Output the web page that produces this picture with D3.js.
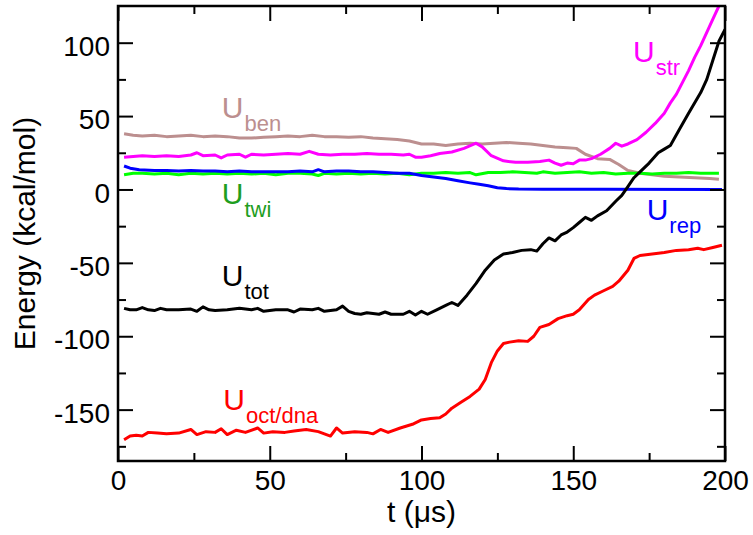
<!DOCTYPE html>
<html>
<head>
<meta charset="utf-8">
<script src="https://cdn.jsdelivr.net/npm/d3@7"></script>
<style>
  body { margin: 0; background: #fff; }
  text { font-family: "Liberation Sans", Arial, Helvetica, sans-serif; }
</style>
</head>
<body>
<div id="vis"></div>
<script>
// frame constants
const FRAME_WIDTH = 753;
const FRAME_HEIGHT = 535;
const MARGINS = {left: 118, right: 28, top: 6, bottom: 74};
const VIS_WIDTH = FRAME_WIDTH - MARGINS.left - MARGINS.right;
const VIS_HEIGHT = FRAME_HEIGHT - MARGINS.top - MARGINS.bottom;

// ticks
const X_MAJOR = [0, 50, 100, 150, 200];
const X_MINOR = [25, 75, 125, 175];
const Y_MAJOR = [-150, -100, -50, 0, 50, 100];
const Y_MINOR = [-175, -125, -75, -25, 25, 75];

// series, [t (us), energy (kcal/mol)]
const U_BEN = [[2,38],[5,37],[8,36.5],[12,37],[16,36],[20,36.5],[24,37],[28,36],[32,36.5],[36,36],[40,35],[44,35],[48,35.5],[52,36],[56,36.5],[60,36],[64,37],[68,36],[72,36],[76,35.5],[80,36],[84,35],[88,34.5],[92,34],[96,33],[100,31],[104,31],[108,30],[112,31],[116,31.5],[120,31],[124,31.5],[128,32],[132,31.5],[136,31],[140,30],[144,29],[148,28.5],[151,28],[154,24],[158,21],[162,20.5],[165,17],[168,13],[172,11],[176,10],[180,9],[185,8.5],[190,8],[195,7.5],[198,7]];

const U_STR = [[2,22],[5,22.5],[8,23],[12,22.5],[16,23],[20,22.5],[24,23.5],[26,25],[28,23],[32,23.5],[34,21.5],[36,23.5],[40,24],[42,22],[44,24],[48,23.5],[52,24],[56,24.5],[60,24],[63,26],[66,24],[70,23.5],[74,24],[78,24],[82,24.5],[86,24],[90,24],[94,23.5],[96,24],[98,22],[100,22],[103,23],[106,24.5],[110,25.5],[114,28],[118,31.5],[120,29],[123,23],[127,19.5],[131,18.5],[135,18.5],[139,19],[142,20],[144,18],[146,16.5],[148,18],[150,17.5],[152,20],[154,20],[156,21],[159,24],[162,28],[164,31.5],[166,29.5],[168,31],[171,34],[174,39],[177,45],[180,52],[182,59],[184,65],[186,73],[188,81],[190,90],[192,98],[194,107],[196,116],[198,125],[199,130]];

const U_TWI = [[2,10],[5,11],[8,11],[12,10.5],[16,11],[20,10],[24,11],[28,10.5],[32,11],[36,10.5],[40,11],[44,10.5],[48,11],[52,10],[56,11],[60,11],[64,10.5],[66,9.5],[68,11],[72,10.5],[76,11],[80,10.5],[84,11],[88,10.5],[92,11],[96,10],[100,11],[104,11],[108,11.5],[112,11],[116,11.5],[118,10],[122,11.5],[126,11.5],[130,12],[134,11.5],[138,11],[140,12],[144,11],[148,11.5],[152,12],[156,11],[160,11.5],[164,10.5],[168,11],[172,11],[176,10.5],[180,11],[184,11],[188,11.5],[192,11],[196,11],[198,11]];

const U_REP = [[2,16],[4,14.5],[7,13.5],[12,13],[16,13],[20,12.5],[24,13],[28,12.5],[32,12.5],[36,12],[40,12.5],[44,12],[48,12],[52,12],[56,12],[60,12.5],[64,12],[66,13.5],[68,12],[72,12.5],[76,12.5],[80,12],[84,12],[88,11.5],[92,11],[96,11],[100,9.5],[104,8.5],[108,7.5],[112,6],[116,4.5],[119,3.5],[122,2.5],[125,1.2],[128,0.6],[132,0.3],[140,0.2],[160,0.1],[199,0]];

const U_TOT = [[2,-81],[4,-82],[6,-82],[8,-80.5],[10,-82],[12,-82.5],[14,-81],[16,-82],[20,-82],[24,-81.5],[26,-83],[28,-80],[30,-82],[32,-82.5],[36,-82],[40,-81],[44,-82],[46,-81],[48,-83],[52,-82],[56,-82],[58,-83.5],[60,-81.5],[64,-82],[66,-81],[68,-83],[72,-82],[74,-79.5],[76,-83],[78,-84.5],[80,-85],[82,-84],[86,-85],[88,-83.5],[90,-85],[94,-85],[96,-83],[98,-85.5],[100,-83],[102,-85],[105,-82],[108,-79],[110,-77],[112,-79],[115,-72],[118,-64],[121,-55],[124,-48],[127,-44],[130,-43],[133,-41.5],[136,-41],[138,-42],[140,-37],[142,-33],[144,-35],[146,-31],[148,-29],[150,-26],[152,-22.5],[154,-19],[156,-21],[158,-18],[161,-14.5],[164,-8],[166,-4],[168,2],[170,8],[172,12],[175,18],[178,25],[180,27.5],[182,30],[185,41],[188,52],[192,66],[194,75],[196,88],[198,101],[200,109]];

const U_OCT = [[2,-170.5],[4,-168],[6,-167.5],[8,-168],[10,-165.5],[13,-166],[16,-166.5],[20,-166],[24,-163.5],[26,-167],[29,-165],[32,-165.5],[34,-163],[36,-167],[39,-164],[42,-165.5],[46,-162.5],[48,-166],[51,-165],[55,-165.5],[58,-164.5],[62,-163.5],[66,-165],[70,-168],[72,-162.5],[74,-166],[78,-165],[82,-165.5],[84,-166.5],[86.5,-163.5],[89,-165.5],[93,-162.5],[97,-160],[100,-157],[103,-156],[106,-155.5],[108,-153],[110,-149],[113,-145],[116,-141],[119,-136],[121,-129.5],[123,-118],[125,-110],[127,-105],[129,-104],[132,-103],[135,-103.5],[137,-100],[139,-94],[142,-92],[145,-88],[148,-86],[150,-85],[152,-82],[155,-75],[157,-72],[160,-69],[163,-66],[165,-62.5],[168,-55],[170,-47],[172,-45],[176,-44],[180,-43],[184,-41.5],[188,-41],[191,-40],[193,-41],[196,-39.5],[199,-38]];

// drawn back to front
const SERIES = [
  {data: U_BEN, color: "#bc8f8f"},
  {data: U_TWI, color: "#00ff00"},
  {data: U_STR, color: "#ff00ff"},
  {data: U_REP, color: "#0000ff"},
  {data: U_OCT, color: "#ff0000"},
  {data: U_TOT, color: "#000000"}
];

// labels: main text, subscript, colour, position in data units
const LABELS = [
  {main: "U", sub: "ben", color: "#bc8f8f", t: 34.2, e: 49},
  {main: "U", sub: "str", color: "#ff00ff", t: 169.7, e: 87},
  {main: "U", sub: "twi", color: "#1f9e1f", t: 34.2, e: -10},
  {main: "U", sub: "rep", color: "#0000ff", t: 174.2, e: -20.5},
  {main: "U", sub: "tot", color: "#000000", t: 34.2, e: -66},
  {main: "U", sub: "oct/dna", color: "#ff0000", t: 34.7, e: -150}
];

const FRAME = d3.select("#vis")
  .append("svg")
  .attr("width", FRAME_WIDTH)
  .attr("height", FRAME_HEIGHT);

const X_SCALE = d3.scaleLinear().domain([0, 200]).range([0, VIS_WIDTH]);
const Y_SCALE = d3.scaleLinear().domain([-185, 125]).range([VIS_HEIGHT, 0]);

const G = FRAME.append("g")
  .attr("transform", "translate(" + MARGINS.left + "," + MARGINS.top + ")");

G.append("clipPath").attr("id", "clip")
  .append("rect")
  .attr("width", VIS_WIDTH)
  .attr("height", VIS_HEIGHT);

// curves
const line = d3.line()
  .x(d => X_SCALE(d[0]))
  .y(d => Y_SCALE(d[1]));

G.append("g").attr("clip-path", "url(#clip)")
  .selectAll("path")
  .data(SERIES)
  .enter()
  .append("path")
  .attr("d", d => line(d.data))
  .attr("fill", "none")
  .attr("stroke", d => d.color)
  .attr("stroke-width", 3)
  .attr("stroke-linejoin", "round");

// axes, ticks pointing inward
function styleAxis(g) {
  g.select(".domain").remove();
  g.selectAll(".tick line").attr("stroke", "#000").attr("stroke-width", 2);
  g.selectAll("text").attr("fill", "#000");
}

G.append("g")
  .attr("transform", "translate(0," + VIS_HEIGHT + ")")
  .call(d3.axisBottom(X_SCALE).tickValues(X_MAJOR).tickSize(-15).tickPadding(9)
    .tickFormat(d => String(d)))
  .attr("font-size", "28px")
  .call(styleAxis);

G.append("g")
  .attr("transform", "translate(0," + VIS_HEIGHT + ")")
  .call(d3.axisBottom(X_SCALE).tickValues(X_MINOR).tickSize(-8).tickFormat(""))
  .call(styleAxis);

G.append("g")
  .call(d3.axisTop(X_SCALE).tickValues(X_MAJOR).tickSize(-15).tickFormat(""))
  .call(styleAxis);

G.append("g")
  .call(d3.axisTop(X_SCALE).tickValues(X_MINOR).tickSize(-8).tickFormat(""))
  .call(styleAxis);

G.append("g")
  .call(d3.axisLeft(Y_SCALE).tickValues(Y_MAJOR).tickSize(-15).tickPadding(8)
    .tickFormat(d => String(d)))
  .attr("font-size", "28px")
  .call(styleAxis)
  .selectAll("text").attr("dy", "0.45em");

G.append("g")
  .call(d3.axisLeft(Y_SCALE).tickValues(Y_MINOR).tickSize(-8).tickFormat(""))
  .call(styleAxis);

G.append("g")
  .attr("transform", "translate(" + VIS_WIDTH + ",0)")
  .call(d3.axisRight(Y_SCALE).tickValues(Y_MAJOR).tickSize(-15).tickFormat(""))
  .call(styleAxis);

G.append("g")
  .attr("transform", "translate(" + VIS_WIDTH + ",0)")
  .call(d3.axisRight(Y_SCALE).tickValues(Y_MINOR).tickSize(-8).tickFormat(""))
  .call(styleAxis);

// frame box
G.append("rect")
  .attr("width", VIS_WIDTH)
  .attr("height", VIS_HEIGHT)
  .attr("fill", "none")
  .attr("stroke", "#000")
  .attr("stroke-width", 2.5);

// axis titles
FRAME.append("text")
  .attr("x", MARGINS.left + VIS_WIDTH / 2)
  .attr("y", 522)
  .attr("text-anchor", "middle")
  .attr("font-size", "30px")
  .text("t (\u03bcs)");

FRAME.append("text")
  .attr("transform", "translate(35," + (MARGINS.top + VIS_HEIGHT / 2) + ") rotate(-90)")
  .attr("text-anchor", "middle")
  .attr("font-size", "30px")
  .text("Energy (kcal/mol)");

// curve labels
const lab = G.selectAll(".lab")
  .data(LABELS)
  .enter()
  .append("text")
  .attr("class", "lab")
  .attr("x", d => X_SCALE(d.t))
  .attr("y", d => Y_SCALE(d.e))
  .attr("fill", d => d.color)
  .attr("font-size", "30px");

lab.append("tspan").text(d => d.main);
lab.append("tspan")
  .attr("dx", "1")
  .attr("dy", "13")
  .attr("font-size", "22px")
  .text(d => d.sub);
</script>
</body>
</html>
